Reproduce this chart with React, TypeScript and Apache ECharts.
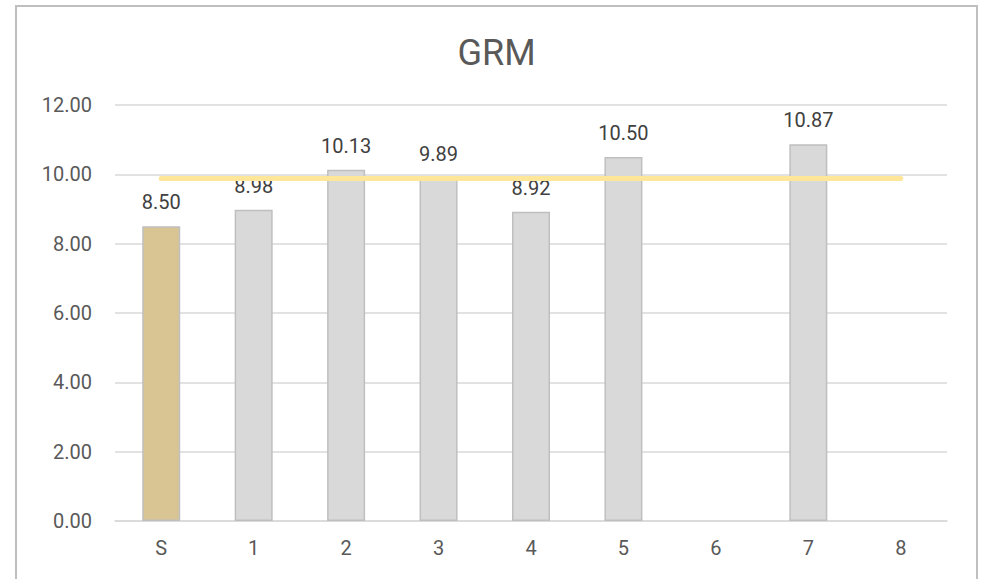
import React, { useEffect, useRef } from "react";
import * as echarts from "echarts";

const categories = ["S", "1", "2", "3", "4", "5", "6", "7", "8"];
const grmValues: (number | null)[] = [8.5, 8.98, 10.13, 9.89, 8.92, 10.5, null, 10.87, null];
const averageValues = [9.88, 9.88, 9.88, 9.88, 9.88, 9.88, 9.88, 9.88, 9.88];
const yTicks = { min: 0, max: 12, interval: 2 };
const title = "GRM";

const FONT = "Roboto, 'Noto Sans', sans-serif";

export default function App() {
  const ref = useRef<HTMLDivElement>(null);
  useEffect(() => {
    if (!ref.current) return;
    const chart = echarts.init(ref.current, undefined, { renderer: "svg" });
    chart.setOption({
      animation: false,
      title: {
        text: title,
        left: "center",
        top: 23,
        textStyle: { fontFamily: FONT, fontSize: 36, fontWeight: "normal", color: "#595959" },
      },
      grid: { left: 98, right: 29, top: 98, bottom: 82, containLabel: false },
      xAxis: {
        type: "category",
        data: categories,
        axisLine: { lineStyle: { color: "#D9D9D9", width: 1.5 } },
        axisTick: { show: false },
        axisLabel: { fontFamily: FONT, fontSize: 20, color: "#595959", margin: 17 },
      },
      yAxis: {
        type: "value",
        min: yTicks.min,
        max: yTicks.max,
        interval: yTicks.interval,
        axisLine: { show: false },
        axisTick: { show: false },
        splitLine: { lineStyle: { color: "#D9D9D9", width: 1.5 } },
        axisLabel: {
          fontFamily: FONT,
          fontSize: 20,
          color: "#595959",
          margin: 23,
          formatter: (v: number) => v.toFixed(2),
        },
      },
      series: [
        {
          type: "bar",
          data: grmValues.map((v, i) =>
            i === 0
              ? { value: v, itemStyle: { color: "#D9C594", borderColor: "#BFBFBF", borderWidth: 1.5 } }
              : v
          ),
          barWidth: 38,
          itemStyle: { color: "#D9D9D9", borderColor: "#BFBFBF", borderWidth: 1.5 },
          label: {
            show: true,
            position: "top",
            distance: 14,
            fontFamily: FONT,
            fontSize: 20,
            color: "#404040",
            formatter: (p: any) => (p.value == null ? "" : Number(p.value).toFixed(2)),
          },
          z: 2,
        },
        {
          type: "line",
          data: averageValues,
          symbol: "none",
          lineStyle: { color: "#FFE699", width: 5, cap: "round" },
          z: 3,
        },
      ],
    });
    return () => chart.dispose();
  }, []);
  return (
    <div
      style={{
        position: "absolute",
        left: 15,
        top: 5,
        width: 963,
        height: 600,
        border: "2px solid #BFBFBF",
        boxSizing: "border-box",
        background: "#fff",
      }}
    >
      <div ref={ref} style={{ width: 959, height: 596 }} />
    </div>
  );
}
